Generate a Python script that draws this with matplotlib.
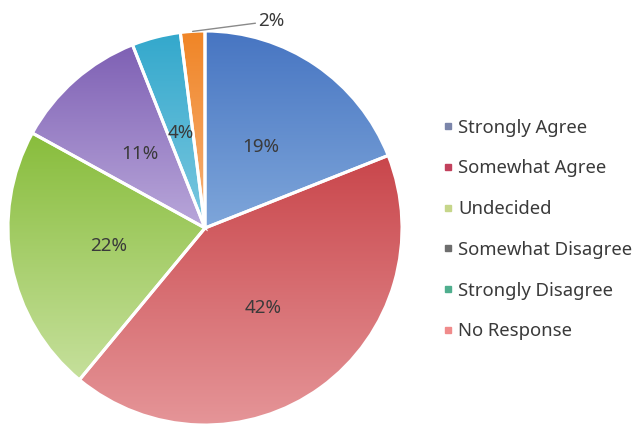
import numpy as np
import matplotlib
matplotlib.use("Agg")
import matplotlib.pyplot as plt
from matplotlib.colors import LinearSegmentedColormap
from matplotlib.lines import Line2D

plt.rcParams["font.family"] = ["Noto Sans", "DejaVu Sans"]

categories = ["Strongly Agree", "Somewhat Agree", "Undecided",
              "Somewhat Disagree", "Strongly Disagree", "No Response"]
values = [19, 42, 22, 11, 4, 2]

# gradient ends per slice (top colour, bottom colour)
top_colors = ["#4775c2", "#c9464b", "#88bd3c", "#7e60b4", "#33a8cc", "#f08526"]
bottom_colors = ["#7ea6da", "#e59598", "#c6e09c", "#b9a7da", "#7cc8e0", "#f7b27a"]
legend_colors = ["#7b85aa", "#c2415c", "#c6d68a", "#6e6e6e", "#4fae8e", "#f08b8b"]

fig = plt.figure(figsize=(6.37, 4.25), dpi=100)
W, H = 637, 425
cx, cy, R = 205, 228, 197
ax = fig.add_axes([(cx - R) / W, (H - cy - R) / H, 2 * R / W, 2 * R / H])
ax.set_xlim(-1, 1)
ax.set_ylim(-1, 1)
ax.set_aspect("equal")
ax.axis("off")

wedges, texts, autotexts = ax.pie(
    values, startangle=90, counterclock=False, radius=1.0,
    colors=top_colors, autopct=lambda p: "" if p < 3 else f"{p:.0f}%",
    pctdistance=0.5, textprops=dict(fontsize=13.5, color="#3a3a3a"),
    wedgeprops=dict(edgecolor="white", linewidth=2.2))

for w, c0, c1 in zip(wedges, top_colors, bottom_colors):
    th = np.radians(np.linspace(w.theta1, w.theta2, 200))
    ys = np.concatenate([w.r * np.sin(th) + w.center[1], [w.center[1]]])
    y0, y1 = ys.min(), ys.max()
    cmap = LinearSegmentedColormap.from_list("g", [c1, c0])
    grad = np.linspace(0, 1, 256).reshape(-1, 1)
    im = ax.imshow(grad, cmap=cmap, origin="lower", aspect="auto",
                   extent=[-1, 1, y0, y1], zorder=w.get_zorder() - 0.01,
                   interpolation="bilinear")
    im.set_clip_path(w)
    w.set_facecolor("none")
    w.set_zorder(w.get_zorder() + 0.02)
ax.set_xlim(-1, 1)
ax.set_ylim(-1, 1)

# outside label for the thin slice
w = wedges[-1]
mid = np.radians((w.theta1 + w.theta2) / 2)
ax.annotate(f"{values[-1]}%", xy=(np.cos(mid) * 1.0, np.sin(mid) * 1.0),
            xytext=(0.27, 1.05), fontsize=13.5, color="#3a3a3a",
            va="center", ha="left", annotation_clip=False,
            arrowprops=dict(arrowstyle="-", color="#8a8a8a", lw=1,
                            shrinkA=0, shrinkB=0))

handles = [Line2D([], [], marker="s", linestyle="none", markersize=5,
                  markerfacecolor=c, markeredgecolor=c) for c in legend_colors]
fig.legend(handles, categories, loc="upper left",
           bbox_to_anchor=(426 / W, 1 - 102 / H), frameon=False,
           fontsize=13.3, labelspacing=1.23, handlelength=0.55,
           handletextpad=0.3, labelcolor="#3a3a3a")

fig.savefig("out.png", dpi=100)
